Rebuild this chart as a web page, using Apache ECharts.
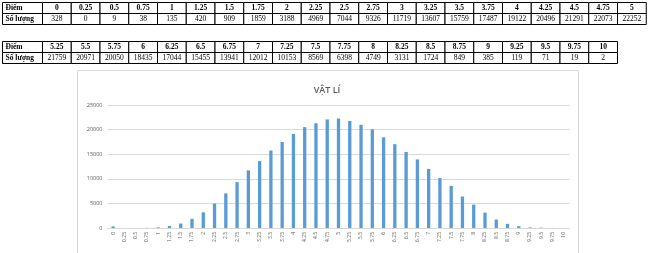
<!DOCTYPE html>
<html>
<head>
<meta charset="utf-8">
<script src="https://cdn.jsdelivr.net/npm/echarts@6/dist/echarts.min.js"></script>
<style>
html,body{margin:0;padding:0;background:#fff;}
#main{width:650px;height:253px;}
</style>
</head>
<body>
<div id="main"></div>
<script>
// Data
var scores = ['0','0.25','0.5','0.75','1','1.25','1.5','1.75','2','2.25','2.5','2.75','3','3.25','3.5','3.75','4','4.25','4.5','4.75','5',
  '5.25','5.5','5.75','6','6.25','6.5','6.75','7','7.25','7.5','7.75','8','8.25','8.5','8.75','9','9.25','9.5','9.75','10'];
var counts = [328,0,9,38,135,420,909,1859,3188,4969,7044,9326,11719,13607,15759,17487,19122,20496,21291,22073,22252,
  21759,20971,20050,18435,17044,15455,13941,12012,10153,8569,6398,4749,3131,1724,849,385,119,71,19,2];
var rowLabels = ['Điểm', 'Số lượng'];
var chartTitle = 'VẬT LÍ';
var yTicks = [0, 5000, 10000, 15000, 20000, 25000];

// Table layout
var tables = [
  {start: 0, end: 21, top: 2.5},
  {start: 21, end: 41, top: 41.5}
];
var tLeft = 2.5, firstW = 40, colW = 28.75, rowH = 11;
var graphics = [];
// chart frame
graphics.push({type:'rect', shape:{x:77.5, y:70.5, width:501, height:200}, style:{fill:'#fff', stroke:'#D9D9D9', lineWidth:1}, z:-10});
tables.forEach(function(t){
  var n = t.end - t.start;
  for (var r = 0; r < 2; r++) {
    var y = t.top + r*rowH;
    graphics.push({type:'rect', shape:{x:tLeft, y:y, width:firstW, height:rowH}, style:{fill:'#fff', stroke:'#000', lineWidth:1}});
    graphics.push({type:'text', x:tLeft+3, y:y+rowH/2+0.5, style:{text:rowLabels[r], font:'bold 7.5px "Liberation Serif"', fill:'#000', verticalAlign:'middle', align:'left'}});
    for (var i = 0; i < n; i++) {
      var x = tLeft + firstW + i*colW;
      var txt = r === 0 ? scores[t.start+i] : String(counts[t.start+i]);
      graphics.push({type:'rect', shape:{x:x, y:y, width:colW, height:rowH}, style:{fill:'#fff', stroke:'#000', lineWidth:1}});
      graphics.push({type:'text', x:x+colW/2, y:y+rowH/2+0.5, style:{text:txt, font:(r===0?'bold ':'')+'7.5px "Liberation Serif"', fill:'#000', verticalAlign:'middle', align:'center'}});
    }
  }
});

var chart = echarts.init(document.getElementById('main'), null, {renderer:'canvas'});
chart.setOption({
  animation:false,
  backgroundColor:'#fff',
  title:{text:chartTitle, left:322, top:81, textAlign:'center',
    textStyle:{fontFamily:'Open Sans', fontSize:9, fontWeight:600, color:'#595959'}},
  graphic: graphics,
  grid:{left:107.5, right:80.5, top:105, bottom:25, containLabel:false},
  xAxis:{type:'category', data:scores,
    axisLine:{lineStyle:{color:'#D9D9D9'}}, axisTick:{show:false},
    axisLabel:{interval:0, rotate:90, fontSize:5, color:'#595959', margin:4, fontFamily:'Open Sans'}},
  yAxis:{type:'value', min:yTicks[0], max:yTicks[yTicks.length-1], interval:5000,
    axisLine:{show:false}, axisTick:{show:false},
    splitLine:{lineStyle:{color:'#D9D9D9'}},
    axisLabel:{fontSize:5.5, color:'#595959', margin:5, fontFamily:'Open Sans', formatter:function(v){return String(v);}}},
  series:[{type:'bar', data:counts, barWidth:3.3, itemStyle:{color:'#5B9BD5'}}]
});
</script>
</body>
</html>
